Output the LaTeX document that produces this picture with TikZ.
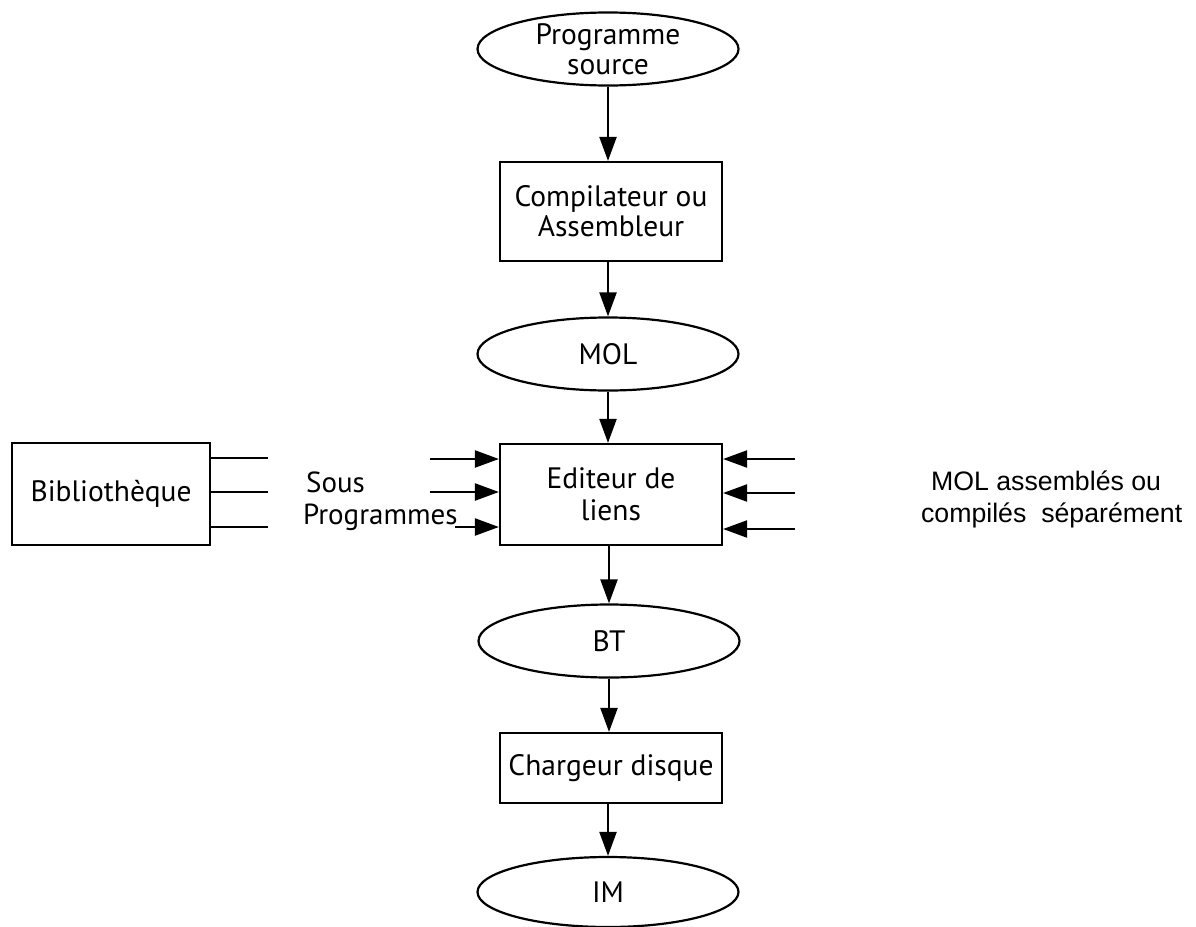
\documentclass[tikz,border=0pt]{standalone}
\usepackage{fontspec}
\setmainfont{PT Sans}
\newfontfamily\arialfont{Liberation Sans}
\usetikzlibrary{arrows.meta,shapes.geometric}
\begin{document}
\begin{tikzpicture}[x=1pt,y=-1pt,
  line width=2.2pt,
  every node/.style={font=\fontsize{29.5}{30}\selectfont},
  oval/.style={draw,ellipse,minimum width=261pt,minimum height=73pt,inner sep=0pt,align=center},
  proc/.style={draw,rectangle,minimum width=222pt,inner sep=0pt,align=center},
  flow/.style={-{Triangle[length=24pt,width=17pt]}},
  plain/.style={font=\fontsize{29}{30}\selectfont,inner sep=0pt,anchor=base west},
]
\useasboundingbox (0,0) rectangle (1196,926);

% main chain
\node[oval] (src) at (608,49) {Programme\\source};
\node[proc,minimum height=99pt] (comp) at (611,211.5) {Compilateur ou\\Assembleur};
\node[oval] (mol) at (608,354) {MOL};
\node[proc,minimum height=101pt] (edit) at (611,494.5) {Editeur de\\[2pt]liens};
\node[oval] (bt) at (609,641) {BT};
\node[proc,minimum height=70pt] (load) at (611,768) {Chargeur disque};
\node[oval,minimum height=70pt] (im) at (608,892) {IM};

\draw[flow] (src.south) -- (src.south |- comp.north);
\draw[flow] (comp.south -| mol.north) -- (mol.north);
\draw[flow] (mol.south) -- (mol.south |- edit.north);
\draw[flow] (edit.south -| bt.north) -- (bt.north);
\draw[flow] (bt.south) -- (bt.south |- load.north);
\draw[flow] (load.south -| im.north) -- (im.north);

% library and sub-programs
\node[draw,rectangle,minimum width=198pt,minimum height=102pt,inner sep=0pt] (lib) at (111,494) {Bibliothèque};
\coordinate (l1) at (268,458);
\coordinate (l2) at (268,492);
\coordinate (l3) at (268,527);
\draw (lib.east |- l1) -- (l1);
\draw (lib.east |- l2) -- (l2);
\draw (lib.east |- l3) -- (l3);

\node[plain] (sous) at (305,492) {Sous};
\node[plain] (prog) at (302,524) {Programmes};

\coordinate (a1) at (430,459);
\coordinate (a2) at (430,492);
\coordinate (a3) at (455,527);
\draw[flow] (a1) -- (a1 -| edit.west);
\draw[flow] (a2) -- (a2 -| edit.west);
\draw[flow] (a3) -- (a3 -| edit.west);

% separately compiled modules
\coordinate (b1) at (795,459);
\coordinate (b2) at (795,493);
\coordinate (b3) at (795,529);
\draw[flow] (b1) -- (b1 -| edit.east);
\draw[flow] (b2) -- (b2 -| edit.east);
\draw[flow] (b3) -- (b3 -| edit.east);

\node[plain,font=\arialfont\fontsize{26.7}{32}\selectfont] (mola) at (930,490) {MOL assemblés ou};
\node[plain,font=\arialfont\fontsize{26.7}{32}\selectfont] (molb) at (920,522) {compilés~ séparément};
\end{tikzpicture}
\end{document}
